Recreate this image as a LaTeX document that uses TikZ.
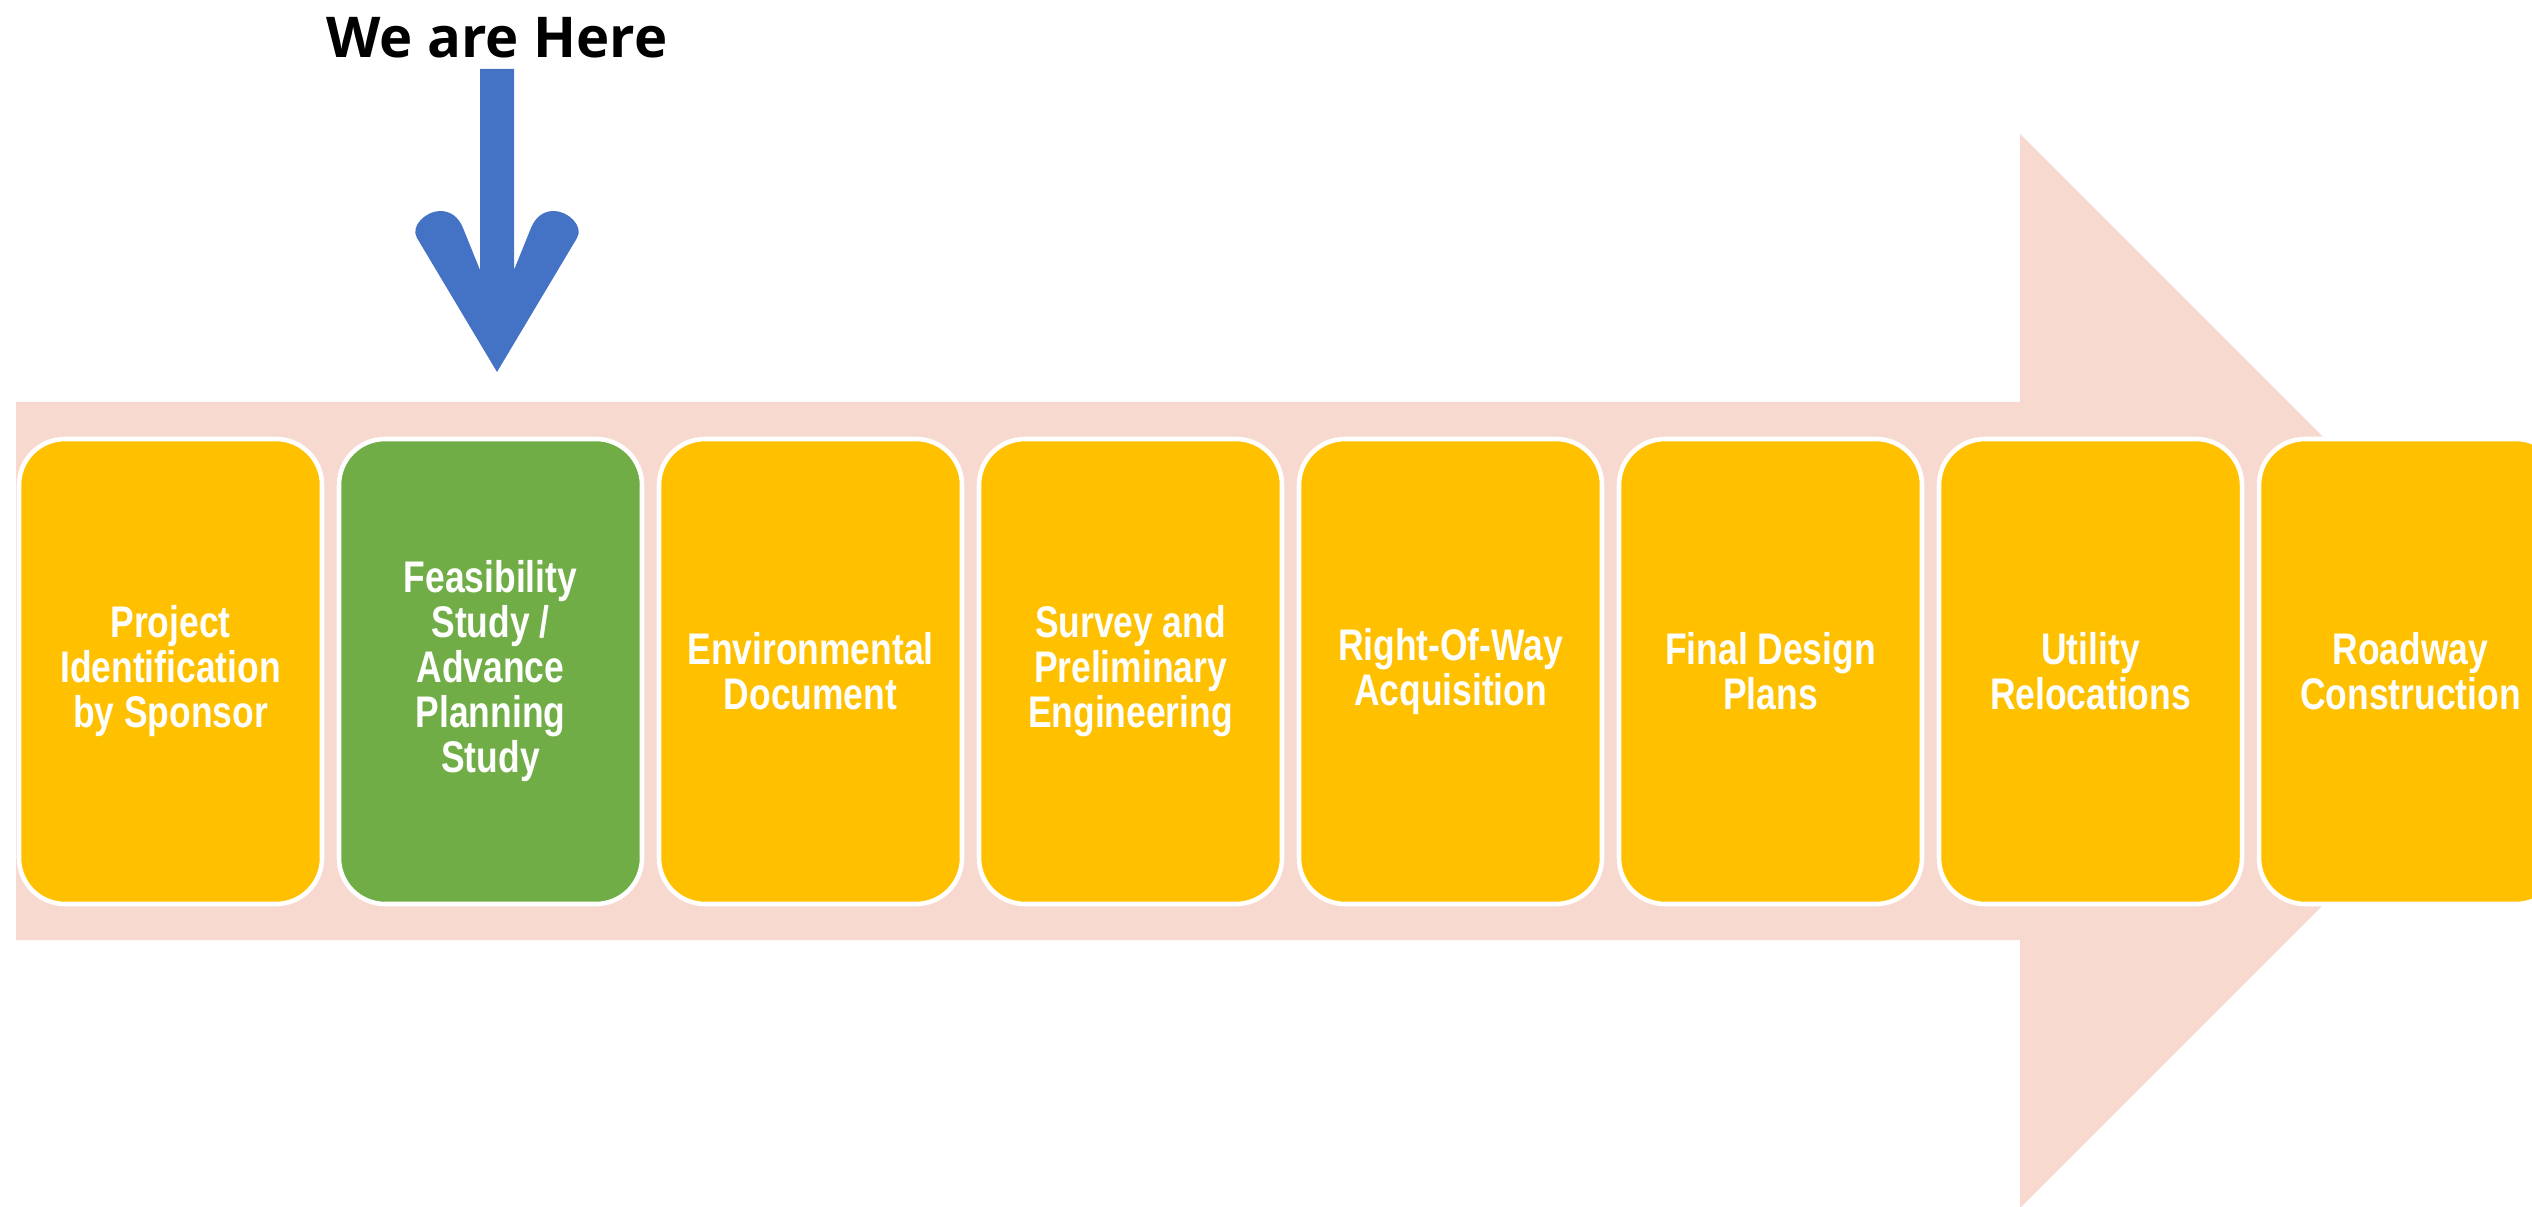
\documentclass[tikz,border=0pt]{standalone}
\usepackage{fontspec}
\usepackage{tikz}
\newfontfamily\stagefont[FakeStretch=0.8]{Liberation Sans}
\newfontfamily\herefont{Open Sans}
\definecolor{bandpink}{RGB}{247,217,207}
\definecolor{stageyellow}{RGB}{255,192,0}
\definecolor{stagegreen}{RGB}{112,173,71}
\definecolor{pointerblue}{RGB}{68,114,196}
\tikzset{
  stage/.style={draw=white, line width=1.3pt, fill=stageyellow, rounded corners=0.46cm,
    minimum width=3.03cm, minimum height=4.65cm, align=center, text=white, inner sep=0pt,
    font=\stagefont\bfseries\fontsize{12.6}{12.8}\selectfont},
  current/.style={stage, fill=stagegreen}
}

\begin{document}
\begin{tikzpicture}
				\useasboundingbox (0,0) rectangle (25.32,12.06);
				\clip (0,0) rectangle (25.32,12.06);
				
				% big process arrow behind the stages
				\fill[bandpink] (0.16,8.04) -- (20.20,8.04) -- (20.20,10.72) -- (25.57,5.35)
					-- (20.20,-0.02) -- (20.20,2.66) -- (0.16,2.66) -- cycle;
				
				% stages
				\node[stage] (ident) at (1.705,5.345) {Project\\Identification\\by Sponsor};
				\node[current] (feas) at (4.905,5.345) {Feasibility\\Study /\\Advance\\Planning\\Study};
				\node[stage] (env) at (8.105,5.345) {Environmental\\Document};
				\node[stage] (survey) at (11.305,5.345) {Survey and\\Preliminary\\Engineering};
				\node[stage] (row) at (14.505,5.345) {Right-Of-Way\\Acquisition};
				\node[stage] (design) at (17.705,5.345) {Final Design\\Plans};
				\node[stage] (util) at (20.905,5.345) {Utility\\Relocations};
				\node[stage] (road) at (24.105,5.345) {Roadway\\Construction};
				
				% pointer
				\node[font=\herefont\bfseries\fontsize{16}{18}\selectfont] (here) at (4.97,11.68) {We are Here};
				\fill[pointerblue] (4.80,11.37) -- (4.80,9.36) -- (4.63,9.78)
					to[out=112,in=0] (4.40,9.95) to[out=180,in=121] (4.17,9.68)
					-- (4.97,8.34) -- (5.77,9.68)
					to[out=59,in=0] (5.54,9.95) to[out=180,in=68] (5.31,9.78)
					-- (5.14,9.36) -- (5.14,11.37) -- cycle;
			\end{tikzpicture}
\end{document}
